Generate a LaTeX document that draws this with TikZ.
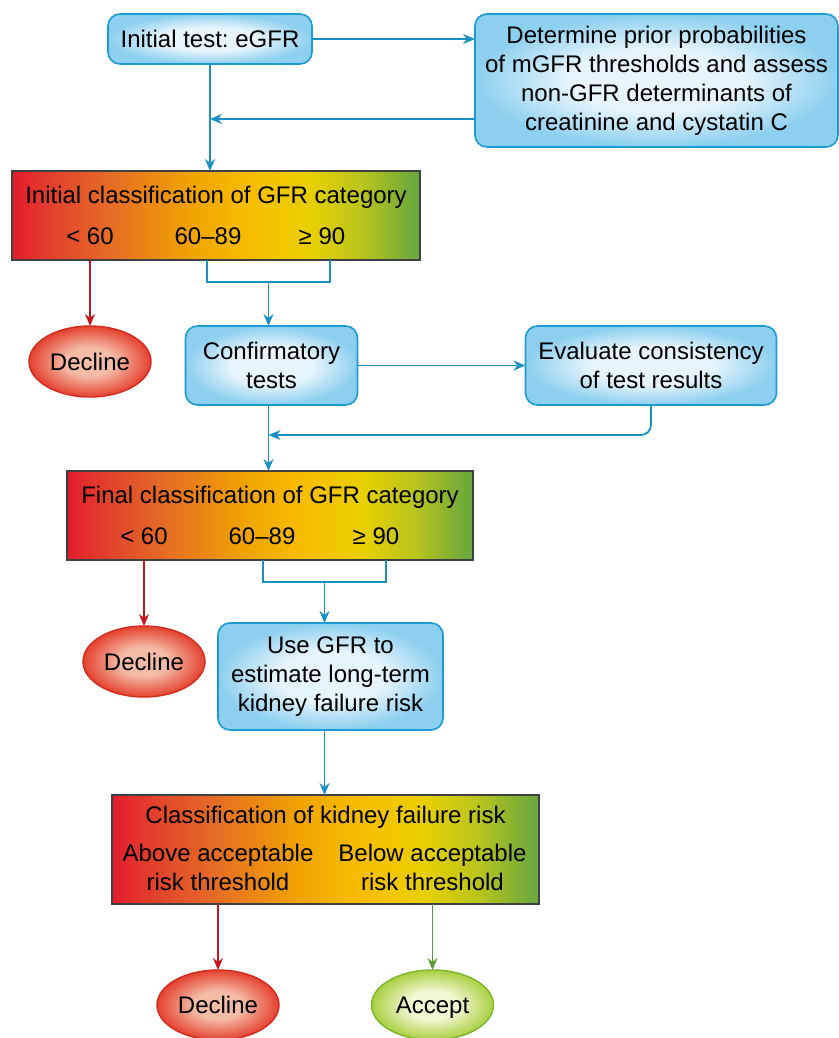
\documentclass[tikz,border=0pt]{standalone}
\usepackage{fontspec}
\setmainfont{Liberation Sans}
\usetikzlibrary{shapes.geometric, arrows.meta, positioning}
\frenchspacing

\definecolor{boxline}{HTML}{1B9BD1}
\definecolor{boxin}{HTML}{E6F4FC}
\definecolor{boxout}{HTML}{8CCFEF}
\definecolor{flowblue}{HTML}{1A8FC2}
\definecolor{barline}{HTML}{404040}
\definecolor{declline}{HTML}{D42A1E}
\definecolor{declin}{HTML}{F4BBA6}
\definecolor{declout}{HTML}{E4412F}
\definecolor{declarrow}{HTML}{C4161C}
\definecolor{accline}{HTML}{7DB52A}
\definecolor{accin}{HTML}{F2F7D2}
\definecolor{accout}{HTML}{A9D042}
\definecolor{accarrow}{HTML}{5B9B35}
% GFR colour scale, red to green
\definecolor{gfra}{HTML}{E31B2D}
\definecolor{gfrb}{HTML}{E3302D}
\definecolor{gfrc}{HTML}{E2482C}
\definecolor{gfrd}{HTML}{E56C25}
\definecolor{gfre}{HTML}{F0A400}
\definecolor{gfrf}{HTML}{F6B800}
\definecolor{gfrg}{HTML}{F5C200}
\definecolor{gfrh}{HTML}{E8D000}
\definecolor{gfri}{HTML}{B8C41E}
\definecolor{gfrj}{HTML}{6FAA3A}
\definecolor{gfrk}{HTML}{6AA83E}

\pgfdeclarehorizontalshading{gfrscale}{100bp}{color(0bp)=(gfra); color(25bp)=(gfra);
  color(27.5bp)=(gfrb); color(31bp)=(gfrc); color(37bp)=(gfrd); color(47bp)=(gfre);
  color(52.5bp)=(gfrf); color(56bp)=(gfrg); color(61.5bp)=(gfrh); color(68bp)=(gfri);
  color(74bp)=(gfrj); color(75bp)=(gfrk); color(100bp)=(gfrk)}
\pgfdeclareradialshading{boxglow}{\pgfpoint{0bp}{0bp}}{color(0bp)=(boxin); color(12bp)=(boxin);
  color(25bp)=(boxout); color(50bp)=(boxout)}
\pgfdeclareradialshading{declglow}{\pgfpoint{0bp}{0bp}}{color(0bp)=(declin); color(10bp)=(declin);
  color(25bp)=(declout); color(50bp)=(declout)}
\pgfdeclareradialshading{accglow}{\pgfpoint{0bp}{0bp}}{color(0bp)=(accin); color(10bp)=(accin);
  color(25bp)=(accout); color(50bp)=(accout)}

\begin{document}
\begin{tikzpicture}[
  every node/.style={font=\fontsize{12}{14.5}\selectfont, outer sep=0pt},
  box/.style={rectangle, rounded corners=6pt, draw=boxline, line width=0.8pt,
              shade, shading=boxglow, align=center, inner sep=0pt},
  gfrbar/.style={rectangle, draw=barline, line width=0.6pt,
                 shade, shading=gfrscale, inner sep=0pt},
  lbl/.style={align=center, inner sep=0pt},
  decl/.style={ellipse, draw=declline, line width=0.7pt, shade, shading=declglow,
               minimum width=61pt, minimum height=35.5pt, inner sep=0pt, text depth=0pt},
  acc/.style={ellipse, draw=accline, line width=0.7pt, shade, shading=accglow,
              minimum width=61pt, minimum height=35.5pt, inner sep=0pt, text depth=0pt},
  link/.style={line width=0.9pt, draw=flowblue},
  flow/.style={-{Stealth[length=6pt, width=5pt]}, line width=0.9pt, draw=flowblue},
  redflow/.style={-{Stealth[length=6pt, width=5pt]}, line width=0.9pt, draw=declarrow},
  greenflow/.style={-{Stealth[length=6pt, width=5pt]}, line width=0.9pt, draw=accarrow},
]
\useasboundingbox (0,0) rectangle (419.5pt,-519pt);

% Initial test
\node[box, minimum width=102pt, minimum height=25pt] (inst) at (105pt,-19.5pt) {Initial test: eGFR};
\node[box, right=81.5pt of inst.north east, anchor=north west,
      minimum width=181.5pt, minimum height=66.5pt] (prior)
      {Determine prior probabilities\\of mGFR thresholds and assess\\non-GFR determinants of\\creatinine and cystatin C};

% Initial classification
\node[gfrbar, below=53.5pt of inst, xshift=3pt, minimum width=204pt, minimum height=44.5pt] (c1) {};
\node[lbl] (c1t) at ([yshift=-13pt]c1.north) {Initial classification of GFR category};
\node[lbl] (c1lo) at ([xshift=-63pt, yshift=12pt]c1.south) {< 60};
\node[lbl] (c1md) at ([xshift=-4pt, yshift=12pt]c1.south) {60–89};
\node[lbl] (c1hi) at ([xshift=53pt, yshift=12pt]c1.south) {≥ 90};

\coordinate (c1a) at (c1lo |- c1.south);
\node[decl, below=33pt of c1a] (dec1) {Decline};

\coordinate (c1l) at ([xshift=-4.5pt]c1.south);
\coordinate (c1r) at ([xshift=57pt]c1.south);
\coordinate[below=11pt of c1.south, xshift=26.25pt] (c1m);

% Confirmatory tests
\node[box, below=22pt of c1m, xshift=1.5pt, minimum width=86pt, minimum height=39.5pt] (conf) {Confirmatory\\tests};
\node[box, right=84pt of conf, minimum width=125.5pt, minimum height=39.5pt] (eval) {Evaluate consistency\\of test results};
\coordinate[below=15pt of eval] (evret);

% Final classification
\node[gfrbar, below=33pt of conf, xshift=-0.75pt, minimum width=203pt, minimum height=44.5pt] (fin) {};
\node[lbl] (fint) at ([yshift=-13pt]fin.north) {Final classification of GFR category};
\node[lbl] (finlo) at ([xshift=-63pt, yshift=12pt]fin.south) {< 60};
\node[lbl] (finmd) at ([xshift=-4pt, yshift=12pt]fin.south) {60–89};
\node[lbl] (finhi) at ([xshift=53pt, yshift=12pt]fin.south) {≥ 90};

\coordinate (fina) at (finlo |- fin.south);
\node[decl, below=33pt of fina] (dec2) {Decline};

\coordinate (fl) at ([xshift=-3.5pt]fin.south);
\coordinate (fr) at ([xshift=58pt]fin.south);
\coordinate[below=11pt of fin.south, xshift=27.25pt] (fm);

% Kidney failure risk
\node[box, below=20.5pt of fm, xshift=3pt, minimum width=112.5pt, minimum height=53.5pt] (use)
      {Use GFR to\\estimate long-term\\kidney failure risk};
\node[gfrbar, below=32.5pt of use, xshift=-2.5pt, minimum width=213.5pt, minimum height=54.5pt] (c3) {};
\node[lbl] (c3t) at ([yshift=-11pt]c3.north) {Classification of kidney failure risk};
\node[lbl] (c3lo) at ([xshift=-53.75pt, yshift=18.5pt]c3.south) {Above acceptable\\risk threshold};
\node[lbl] (c3hi) at ([xshift=53.5pt, yshift=18.5pt]c3.south) {Below acceptable\\risk threshold};

\coordinate (c3a) at (c3lo |- c3.south);
\coordinate (c3b) at (c3hi |- c3.south);
\node[decl, below=33pt of c3a, minimum height=35pt] (dec3) {Decline};
\node[acc, below=33pt of c3b, minimum height=35pt] (acc) {Accept};

% Arrows
\draw[flow] (inst) -- (inst -| prior.west);
\coordinate (pback) at ([yshift=-19.25pt]prior.west);
\draw[flow] (pback) -- (inst |- pback);
\draw[flow] (inst) -- (inst |- c1.north);
\draw[redflow] (c1a) -- (dec1);
\draw[link] (c1l) -- (c1l |- c1m) -- (c1r |- c1m) -- (c1r);
\draw[flow] (c1m) -- (c1m |- conf.north);
\draw[flow] (conf) -- (eval);
\draw[flow, rounded corners=5pt] (eval) -- (evret) -- (c1m |- evret);
\draw[flow] (c1m |- conf.south) -- (c1m |- fin.north);
\draw[redflow] (fina) -- (dec2);
\draw[link] (fl) -- (fl |- fm) -- (fr |- fm) -- (fr);
\draw[flow] (fm) -- (fm |- use.north);
\draw[flow] (fm |- use.south) -- (fm |- c3.north);
\draw[redflow] (c3a) -- (dec3);
\draw[greenflow] (c3b) -- (acc);
\end{tikzpicture}
\end{document}
